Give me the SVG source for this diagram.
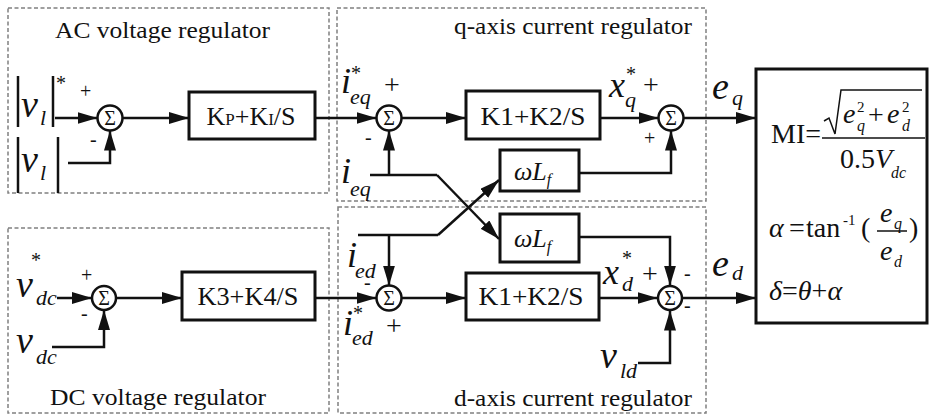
<svg xmlns="http://www.w3.org/2000/svg" width="932" height="416" viewBox="0 0 932 416" font-family="Liberation Serif">
<defs>
<marker id="ah" markerWidth="20" markerHeight="12" refX="20" refY="6" orient="auto" markerUnits="userSpaceOnUse"><path d="M0,0 L20,6 L0,12 Z" fill="#111"/></marker>
<style>
.reg{fill:none;stroke:#808080;stroke-width:1.5;stroke-dasharray:4,2.5}
.blk{fill:#fff;stroke:#111;stroke-width:3}
.sum{fill:#fff;stroke:#111;stroke-width:2.5}
.w{fill:none;stroke:#111;stroke-width:2.5}
.ar{fill:none;stroke:#111;stroke-width:2.5;marker-end:url(#ah)}
text{fill:#111}
.t{font-size:23px}
.bx{font-size:26px;text-anchor:middle}
.sg{font-size:20px;text-anchor:middle}
.v{font-style:italic;font-size:38px}
.iv{font-style:italic;font-size:36px}
.sb{font-style:italic;font-size:22px}
.st{font-size:20px}
.pl{font-size:28px}
.sm{font-size:20px}
.m{font-size:28px}
.mi{font-size:28px;font-style:italic}
.ms{font-size:16px;font-style:italic}
.mn{font-size:15px}
</style>
</defs>
<g font-family="Liberation Serif">
<g id="regions">
<rect id="ac-region" class="reg" x="8" y="8" width="321" height="185"/>
<rect id="dc-region" class="reg" x="8" y="228" width="321" height="185"/>
<rect id="q-region" class="reg" x="337" y="8" width="369" height="193"/>
<rect id="d-region" class="reg" x="338" y="207" width="368" height="206"/>
<text class="t" x="55" y="38" textLength="215" lengthAdjust="spacingAndGlyphs">AC voltage regulator</text>
<text class="t" x="50" y="405" textLength="216" lengthAdjust="spacingAndGlyphs">DC voltage regulator</text>
<text class="t" x="454" y="34" textLength="238" lengthAdjust="spacingAndGlyphs">q-axis current regulator</text>
<text class="t" x="454" y="406" textLength="238" lengthAdjust="spacingAndGlyphs">d-axis current regulator</text>
</g>

<g id="connectors">
<path class="ar" d="M55,118 H97.5"/>
<path class="ar" d="M68,163 H110 V130.5"/>
<path class="ar" d="M122.5,118 H189"/>
<path class="ar" d="M315,118 H376.5"/>
<path class="ar" d="M401.5,118 H466"/>
<path class="ar" d="M600,118 H658.5"/>
<path class="ar" d="M683.5,118 H756"/>
<path class="w" d="M370,175 H437"/>
<path class="ar" d="M437,175 L499,239"/>
<path class="ar" d="M389,175 V130.5"/>
<path class="w" d="M358,235 H438"/>
<path class="ar" d="M438,235 L499,180"/>
<path class="ar" d="M389,235 V285.5"/>
<path class="ar" d="M579,173 H671 V130.5"/>
<path class="ar" d="M579,237 H670 V285.5"/>
<path class="ar" d="M638,363 H670 V310.5"/>
<path class="ar" d="M682.5,298 H756"/>
<path class="ar" d="M57,298 H92"/>
<path class="ar" d="M52,347 H104 V310"/>
<path class="ar" d="M116,298 H182"/>
<path class="ar" d="M315,298 H376.5"/>
<path class="ar" d="M401.5,298 H466"/>
<path class="ar" d="M599,298 H657.5"/>
</g>

<g id="in-vl-ref">
<line class="w" x1="18" y1="76" x2="18" y2="127"/>
<line class="w" x1="53" y1="76" x2="53" y2="127"/>
<text class="v" x="21" y="117">v</text>
<text class="sb" x="40" y="125">l</text>
<text class="st" x="56" y="90">*</text>
</g>
<g id="in-vl">
<line class="w" x1="18" y1="137" x2="18" y2="193"/>
<line class="w" x1="58" y1="137" x2="58" y2="193"/>
<text class="v" x="21" y="172">v</text>
<text class="sb" x="40" y="180">l</text>
</g>
<g id="sum-ac">
<circle class="sum" cx="110" cy="118" r="12.5"/>
<text class="sg" x="110" y="125">Σ</text>
<text class="sm" x="80" y="98">+</text>
<text class="sm" x="90" y="146">-</text>
</g>
<g id="kp-ki">
<rect class="blk" x="189" y="92" width="126" height="47"/>
<text x="251" y="125" style="font-size:26px;text-anchor:middle">K<tspan font-size="17">P</tspan>+K<tspan font-size="17">I</tspan>/S</text>
</g>

<g id="in-vdc-ref">
<text class="v" x="16" y="297">v</text>
<text class="st" x="31" y="267">*</text>
<text class="sb" x="36" y="305">dc</text>
</g>
<g id="in-vdc">
<text class="v" x="16" y="353">v</text>
<text class="sb" x="36" y="364">dc</text>
</g>
<g id="sum-dc">
<circle class="sum" cx="104" cy="298" r="12"/>
<text class="sg" x="104" y="305">Σ</text>
<text class="sm" x="81" y="282">+</text>
<text class="sm" x="81" y="320">-</text>
</g>
<g id="k3-k4">
<rect class="blk" x="182" y="272" width="133" height="48"/>
<text class="bx" x="248" y="305" textLength="101" lengthAdjust="spacingAndGlyphs">K3+K4/S</text>
</g>

<g id="label-ieq-ref">
<text class="iv" x="341" y="93">i</text>
<text class="st" x="351" y="80">*</text>
<text class="sb" x="350" y="104">eq</text>
</g>
<g id="sum-q1">
<circle class="sum" cx="389" cy="118" r="12.5"/>
<text class="sg" x="389" y="125">Σ</text>
<text class="pl" x="384" y="94">+</text>
<text class="sm" x="365" y="144">-</text>
</g>
<g id="label-ieq">
<text class="iv" x="341" y="183">i</text>
<text class="sb" x="350" y="196">eq</text>
</g>
<g id="k1-k2-q">
<rect class="blk" x="466" y="91" width="134" height="48"/>
<text class="bx" x="533" y="125" textLength="105" lengthAdjust="spacingAndGlyphs">K1+K2/S</text>
</g>
<g id="wlf-q">
<rect class="blk" x="500" y="150" width="79" height="41"/>
<text x="514" y="180" style="font-size:26px;font-style:italic">ωL<tspan font-size="16" dy="5">f</tspan></text>
</g>
<g id="sum-q2">
<circle class="sum" cx="671" cy="118" r="12.5"/>
<text class="sg" x="671" y="125">Σ</text>
<text class="iv" x="609" y="97">x</text>
<text class="st" x="626" y="81">*</text>
<text class="sb" x="625" y="107">q</text>
<text class="pl" x="643" y="94">+</text>
<text class="sm" x="644" y="145">+</text>
</g>
<g id="out-eq">
<text class="v" x="712" y="99">e</text>
<text class="sb" x="732" y="105">q</text>
</g>

<g id="label-ied">
<text class="iv" x="347" y="267">i</text>
<text class="sb" x="355" y="278">ed</text>
<text class="sm" x="364" y="289">-</text>
</g>
<g id="sum-d1">
<circle class="sum" cx="389" cy="298" r="12.5"/>
<text class="sg" x="389" y="305">Σ</text>
<text class="pl" x="386" y="335">+</text>
</g>
<g id="label-ied-ref">
<text class="iv" x="343" y="335">i</text>
<text class="st" x="353" y="320">*</text>
<text class="sb" x="352" y="345">ed</text>
</g>
<g id="k1-k2-d">
<rect class="blk" x="466" y="273" width="133" height="47"/>
<text class="bx" x="531" y="305" textLength="105" lengthAdjust="spacingAndGlyphs">K1+K2/S</text>
</g>
<g id="wlf-d">
<rect class="blk" x="500" y="214" width="79" height="48"/>
<text x="514" y="247" style="font-size:26px;font-style:italic">ωL<tspan font-size="16" dy="5">f</tspan></text>
</g>
<g id="sum-d2">
<circle class="sum" cx="670" cy="298" r="12"/>
<text class="sg" x="670" y="305">Σ</text>
<text class="iv" x="603" y="284">x</text>
<text class="st" x="622" y="265">*</text>
<text class="sb" x="622" y="291">d</text>
<text class="pl" x="642" y="283">+</text>
<text class="sm" x="684" y="280">-</text>
<text class="sm" x="684" y="312">-</text>
</g>
<g id="in-vld">
<text class="v" x="600" y="368">v</text>
<text class="sb" x="620" y="378">ld</text>
</g>
<g id="out-ed">
<text class="v" x="712" y="276">e</text>
<text class="sb" x="732" y="280">d</text>
</g>

<g id="modulator">
<rect class="blk" x="756" y="69" width="171" height="254"/>
<text class="m" x="771" y="143">MI=</text>
<path d="M824,121 L829,118 L835,134 L841,90 H922" fill="none" stroke="#111" stroke-width="1.5"/>
<text class="mi" x="843" y="123" font-size="26">e</text>
<text class="mn" x="857" y="112">2</text>
<text class="ms" x="857" y="131">q</text>
<text class="m" x="868" y="124" font-size="24">+</text>
<text class="mi" x="887" y="123" font-size="26">e</text>
<text class="mn" x="902" y="112">2</text>
<text class="ms" x="902" y="131">d</text>
<line x1="822" y1="138" x2="925" y2="138" stroke="#111" stroke-width="1.5"/>
<text class="m" x="840" y="168" font-size="26">0.5<tspan font-style="italic">V</tspan></text>
<text class="ms" x="891" y="178">dc</text>
<text class="mi" x="769" y="237">α</text>
<text class="m" x="789" y="237" font-size="24">=</text>
<text class="m" x="806" y="237" font-size="27">tan</text>
<text class="mn" x="843" y="225">-1</text>
<text class="m" x="861" y="237" font-size="27">(</text>
<text class="mi" x="880" y="222" font-size="26">e</text>
<text class="ms" x="894" y="229">q</text>
<line x1="877" y1="231" x2="907" y2="231" stroke="#111" stroke-width="1.5"/>
<text class="mi" x="880" y="260" font-size="26">e</text>
<text class="ms" x="894" y="267">d</text>
<text class="m" x="909" y="237" font-size="27">)</text>
<text class="mi" x="769" y="300">δ<tspan font-style="normal">=</tspan>θ<tspan font-style="normal">+</tspan>α</text>
</g>
</g>
</svg>
